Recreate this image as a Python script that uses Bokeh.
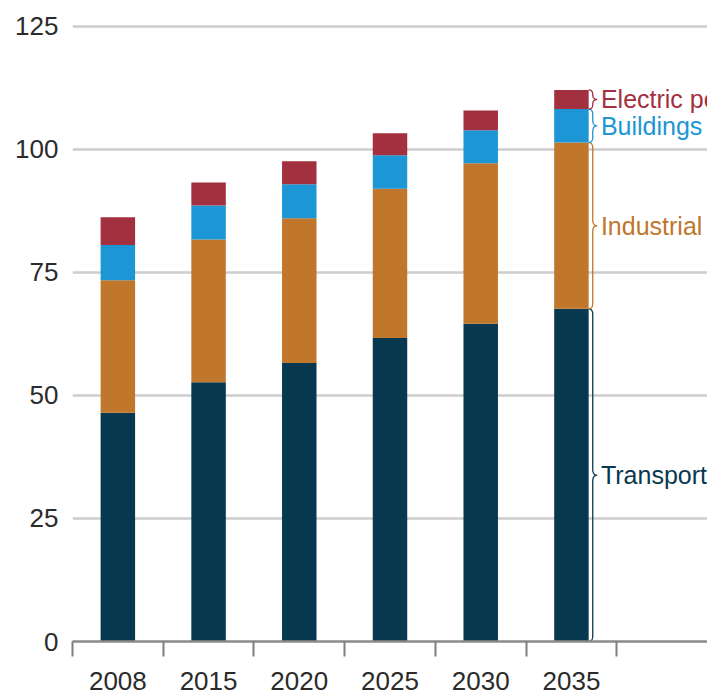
from bokeh.plotting import figure
from bokeh.models import ColumnDataSource, FixedTicker, Range1d
from bokeh.core.properties import value
from bokeh.embed import file_html
from bokeh.resources import INLINE

years = ["2008", "2015", "2020", "2025", "2030", "2035"]
sectors = ["Transport", "Industrial", "Buildings", "Electric power"]
transport = [46.5, 52.7, 56.6, 61.7, 64.6, 67.6]
industrial = [26.9, 29.0, 29.4, 30.3, 32.6, 33.8]
buildings = [7.2, 6.9, 6.9, 6.8, 6.7, 6.8]
electric = [5.6, 4.7, 4.7, 4.5, 4.0, 3.9]
colors = ["#08384F", "#C0762B", "#1C96D4", "#A3303F"]
y_ticks = [0, 25, 50, 75, 100, 125]

FONT = "Liberation Sans Narrow, Arial Narrow, Liberation Sans, sans-serif"

p = figure(frame_width=635, frame_height=620, output_backend="svg",
           toolbar_location=None, x_range=Range1d(0, 7), y_range=Range1d(0, 126),
           min_border_left=72, min_border_right=0, min_border_top=21,
           min_border_bottom=56)
p.outline_line_color = None
p.background_fill_color = "white"
p.border_fill_color = "white"

xs = [i + 0.5 for i in range(len(years))]
series = [transport, industrial, buildings, electric]
bottoms = [0.0] * len(years)
bar_w = 0.38
for vals, col in zip(series, colors):
    tops = [b + v for b, v in zip(bottoms, vals)]
    src = ColumnDataSource(dict(x=xs, bottom=bottoms, top=tops))
    p.vbar(x="x", bottom="bottom", top="top", width=bar_w, source=src,
           fill_color=col, line_color=None)
    bottoms = tops

# braces and labels for the last bar
last = len(years) - 1
xe = xs[last] + bar_w / 2
xb = xe + 0.045
xt = xe + 0.095
xl = xt + 0.04

def quad(p0, c, p1, n=12):
    pts = []
    for k in range(n + 1):
        t = k / n
        x = (1 - t) ** 2 * p0[0] + 2 * (1 - t) * t * c[0] + t ** 2 * p1[0]
        y = (1 - t) ** 2 * p0[1] + 2 * (1 - t) * t * c[1] + t ** 2 * p1[1]
        pts.append((x, y))
    return pts

lo = 0.0
bx, by, bc, lx, ly, lt, lc = [], [], [], [], [], [], []
for vals, col, name in zip(series, colors, sectors):
    h = vals[last]
    hi = lo + h
    ym = (lo + hi) / 2
    r = min(1.2, h / 4)
    pts = []
    pts += quad((xe, lo), (xb, lo), (xb, lo + r))
    pts += quad((xb, ym - r), (xb, ym), (xt, ym))
    pts += quad((xt, ym), (xb, ym), (xb, ym + r))
    pts += quad((xb, hi - r), (xb, hi), (xe, hi))
    bx.append([q[0] for q in pts])
    by.append([q[1] for q in pts])
    bc.append(col)
    lx.append(xl)
    ly.append(ym)
    lt.append(name)
    lc.append(col)
    lo = hi

p.multi_line(xs=bx, ys=by, line_color=bc, line_width=1.3)
p.text(x=lx, y=ly, text=lt, text_color=lc, text_font=value(FONT),
       text_font_size="25px", text_baseline="middle", text_align="left")

# axes
p.xaxis.ticker = FixedTicker(ticks=xs, minor_ticks=list(range(len(years) + 1)))
p.xaxis.major_label_overrides = {x: y for x, y in zip(xs, years)}
p.xaxis.major_tick_line_color = None
p.xaxis.major_tick_out = 0
p.xaxis.major_tick_in = 0
p.xaxis.minor_tick_out = 15
p.xaxis.minor_tick_in = 0
p.xaxis.minor_tick_line_color = "#7f7f7f"
p.xaxis.minor_tick_line_width = 2
p.xaxis.axis_line_color = "#8a8a8a"
p.xaxis.axis_line_width = 2.5
p.xaxis.major_label_standoff = 15
p.xaxis.major_label_text_font = FONT
p.xaxis.major_label_text_font_size = "26px"
p.xaxis.major_label_text_color = "#2b2b2b"

p.yaxis.ticker = FixedTicker(ticks=y_ticks)
p.yaxis.axis_line_color = None
p.yaxis.major_tick_line_color = None
p.yaxis.minor_tick_line_color = None
p.yaxis.major_label_standoff = 8
p.yaxis.major_label_text_font = FONT
p.yaxis.major_label_text_font_size = "26px"
p.yaxis.major_label_text_color = "#2b2b2b"

p.xgrid.grid_line_color = None
p.ygrid.ticker = FixedTicker(ticks=y_ticks)
p.ygrid.grid_line_color = "#cdcdcd"
p.ygrid.grid_line_width = 2.5

open("out.html", "w").write(file_html(p, INLINE))
